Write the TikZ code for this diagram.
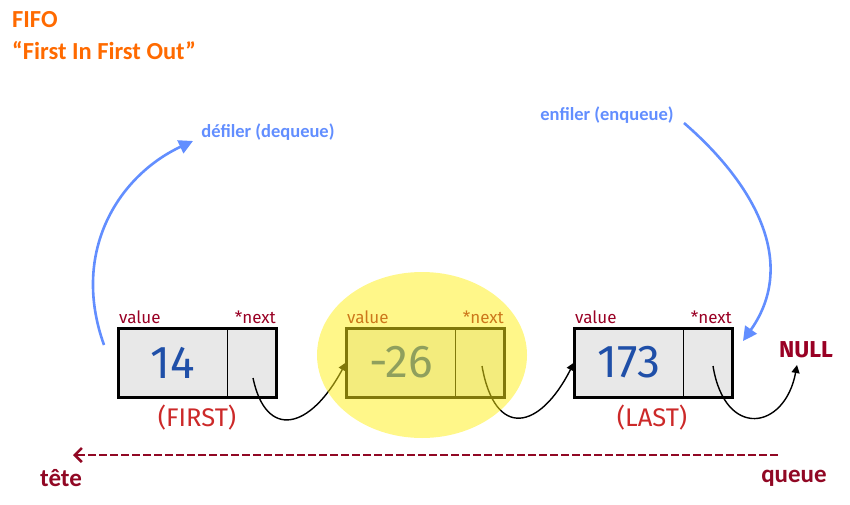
\documentclass[tikz,border=0pt]{standalone}
\usepackage{fontspec}
\setmainfont{Carlito}
\newfontfamily\boxfont{Fira Sans}
\usetikzlibrary{arrows.meta}
\definecolor{ttlorange}{RGB}{255,106,0}
\definecolor{opblue}{RGB}{98,142,255}
\definecolor{lbldred}{RGB}{153,0,36}
\definecolor{posred}{RGB}{204,41,41}
\definecolor{valblue}{RGB}{31,79,168}
\definecolor{boxgrey}{RGB}{232,232,232}
\definecolor{hiyellow}{RGB}{255,240,20}
\definecolor{dashred}{RGB}{145,8,36}
\tikzset{
  valpart/.style={draw=black, line width=1pt, fill=boxgrey, minimum width=109pt, minimum height=68pt, inner sep=0pt, anchor=north west, font=\boxfont\fontsize{46}{48}\selectfont, text=valblue},
  nextpart/.style={draw=black, line width=1pt, fill=boxgrey, minimum width=48pt, minimum height=68pt, inner sep=0pt, anchor=north west},
  outer/.style={draw=black, line width=3pt},
  fieldlbl/.style={font=\boxfont\fontsize{17}{18}\selectfont, text=lbldred, inner sep=0pt},
  poslbl/.style={font=\boxfont\fontsize{25.5}{27}\selectfont, text=posred, inner sep=0pt},
  oplbl/.style={font=\bfseries\fontsize{18.5}{20}\selectfont, text=opblue, inner sep=0pt},
  oparrow/.style={draw=opblue, line width=2.6pt, -{Triangle[length=14pt,width=14pt]}},
  ptrarrow/.style={draw=black, line width=1.4pt, -{Triangle[length=8pt,width=8pt]}},
  endlbl/.style={font=\bfseries\fontsize{25}{27}\selectfont, text=dashred, inner sep=0pt},
}
\begin{document}
\begin{tikzpicture}[x=1pt,y=-1pt]
\useasboundingbox (0,0) rectangle (850,505);
% titles
\node[anchor=west, inner sep=0pt, text=ttlorange, font=\bfseries\fontsize{24.5}{26}\selectfont] (t1) at (12,20) {FIFO};
\node[anchor=west, inner sep=0pt, text=ttlorange, font=\bfseries\fontsize{24.5}{26}\selectfont] (t2) at (12,51) {“First In First Out”};
% boxes
\node[valpart] (v1) at (118,328) {14};
\node[nextpart] (n1) at (227,328) {};
\draw[outer] (v1.north west) rectangle (n1.south east);
\node[valpart] (v2) at (346,328) {-26};
\node[nextpart] (n2) at (455,328) {};
\draw[outer] (v2.north west) rectangle (n2.south east);
\node[valpart] (v3) at (574,328) {173};
\node[nextpart] (n3) at (683,328) {};
\draw[outer] (v3.north west) rectangle (n3.south east);
% field labels
\foreach \i in {1,2,3}{
  \node[fieldlbl, anchor=base west] (vl\i) at ([xshift=1pt,yshift=5pt]v\i.north west) {value};
  \node[fieldlbl, anchor=base east] (nl\i) at ([yshift=5pt]n\i.north east) {*next};
}
\node[poslbl] (first) at (197,418) {(FIRST)};
\node[poslbl] (last) at (652,418) {(LAST)};
\node[font=\boxfont\bfseries\fontsize{23}{25}\selectfont, text=lbldred, inner sep=0pt] (null) at (806,350) {NULL};
% pointer arrows
\coordinate (p1) at (253,378);
\coordinate (p2) at (482,366);
\coordinate (p3) at (713,366);
\coordinate (nullin) at (797,365);
\draw[ptrarrow] (p1) .. controls (266,440) and (310,430) .. (v2.west);
\draw[ptrarrow] (p2) .. controls (495,440) and (540,430) .. (v3.west);
\draw[ptrarrow] (p3) .. controls (725,440) and (785,430) .. (nullin);
% operation labels and arrows
\node[oplbl] (deq) at (268,132) {défiler (dequeue)};
\node[oplbl] (enq) at (607,115) {enfiler (enqueue)};
\coordinate (dqs) at (104,345);
\coordinate (dqe) at (193,141);
\coordinate (eqs) at (684,123);
\coordinate (eqe) at (743,341);
\draw[oparrow] (dqs) .. controls (70,250) and (120,175) .. (dqe);
\draw[oparrow] (eqs) .. controls (750,180) and (800,260) .. (eqe);
% head/tail
\coordinate (qstart) at (778,455);
\coordinate (qend) at (73,455);
\draw[draw=dashred, line width=2.6pt, dash pattern=on 8pt off 3pt, -{Straight Barb[length=7pt,width=14pt]}] (qstart) -- (qend);
\node[endlbl] (tete) at (61,478) {tête};
\node[endlbl] (queue) at (794,478) {queue};
% highlight overlay
\fill[hiyellow, fill opacity=0.5] (422,355) ellipse [x radius=105, y radius=83];
\end{tikzpicture}
\end{document}
